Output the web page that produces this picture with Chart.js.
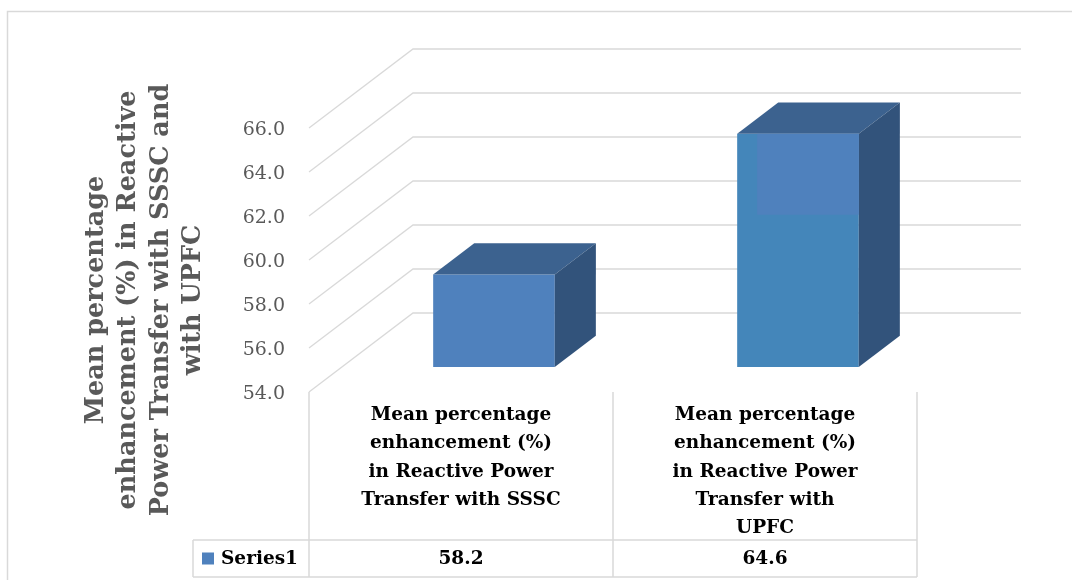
<!DOCTYPE html>
<html>
<head>
<meta charset="utf-8">
<script src="https://cdn.jsdelivr.net/npm/chart.js@4"></script>
<style>
  html, body { margin: 0; padding: 0; background: #ffffff; }
  #wrap { width: 1072px; height: 580px; }
</style>
</head>
<body>
<div id="wrap"><canvas id="chart" width="1072" height="580"></canvas></div>
<script>
// ---- data ----
const categories = [
  ["Mean percentage", "enhancement (%)", "in Reactive Power", "Transfer with SSSC"],
  ["Mean percentage", "enhancement (%)", "in Reactive Power", "Transfer with", "UPFC"]
];
const seriesName = "Series1";
const seriesValues = [58.2, 64.6];
const yTickValues = [54, 56, 58, 60, 62, 64, 66];
const axisTitleLines = [
  "Mean percentage",
  "enhancement (%) in Reactive",
  "Power Transfer with SSSC and",
  "with UPFC"
];

// ---- look ----
const DEPTH_DX = 104;      // full depth of the 3-D floor, x
const DEPTH_DY = -79;      // full depth of the 3-D floor, y
const BAR_FRONT = 0.317;   // where the bar front sits within the depth
const BAR_DEPTH = 0.395;   // how deep each bar is
const GRID = '#D9D9D9';
const AXIS_TEXT = '#595959';
const FRONT_COLORS = ['#4F81BD', '#4486BA'];
const TOP_COLOR = '#3C628F';
const SIDE_COLOR = '#32537B';
const SERIF = '"DejaVu Serif", "Liberation Serif", serif';

const box3d = {
  id: 'box3d',
  beforeDraw(chart) {
    const ctx = chart.ctx;
    ctx.save();
    ctx.fillStyle = '#ffffff';
    ctx.fillRect(0, 0, chart.width, chart.height);
    ctx.strokeStyle = GRID;
    ctx.lineWidth = 1.5;
    ctx.strokeRect(7.5, 11.5, chart.width + 40, chart.height + 40);
    ctx.restore();
  },
  beforeDatasetsDraw(chart) {
    const ctx = chart.ctx;
    const area = chart.chartArea;
    const y = chart.scales.y;
    const x = chart.scales.x;
    ctx.save();

    // side wall and back wall gridlines
    ctx.strokeStyle = GRID;
    ctx.lineWidth = 1.3;
    yTickValues.forEach(v => {
      const py = y.getPixelForValue(v);
      ctx.beginPath();
      ctx.moveTo(area.left, py);
      ctx.lineTo(area.left + DEPTH_DX, py + DEPTH_DY);
      ctx.lineTo(area.right + DEPTH_DX, py + DEPTH_DY);
      ctx.stroke();
    });

    // value axis labels
    ctx.fillStyle = AXIS_TEXT;
    ctx.font = '19px ' + SERIF;
    ctx.textAlign = 'right';
    ctx.textBaseline = 'middle';
    yTickValues.forEach(v => {
      const py = y.getPixelForValue(v);
      ctx.fillText(v.toFixed(1), area.left - 24, py + 2);
    });

    // value axis title
    ctx.font = 'bold 25.5px ' + SERIF;
    ctx.textAlign = 'center';
    axisTitleLines.forEach((line, i) => {
      ctx.save();
      ctx.translate(96 + 32.5 * i, 300);
      ctx.rotate(-Math.PI / 2);
      ctx.fillText(line, 0, 0);
      ctx.restore();
    });

    // data table
    const tTop = area.bottom;
    const hdrBottom = 540;
    const tBottom = 577;
    const rowLeft = 193;
    const mid = (x.getPixelForValue(0) + x.getPixelForValue(1)) / 2;
    ctx.strokeStyle = GRID;
    ctx.lineWidth = 1.5;
    ctx.beginPath();
    [area.left, mid, area.right].forEach(px => {
      ctx.moveTo(px, tTop);
      ctx.lineTo(px, tBottom);
    });
    ctx.moveTo(rowLeft, hdrBottom);
    ctx.lineTo(rowLeft, tBottom);
    ctx.moveTo(rowLeft, hdrBottom);
    ctx.lineTo(area.right, hdrBottom);
    ctx.moveTo(rowLeft, tBottom);
    ctx.lineTo(area.right, tBottom);
    ctx.stroke();

    ctx.fillStyle = '#000000';
    ctx.font = 'bold 18.5px ' + SERIF;
    ctx.textAlign = 'center';
    ctx.textBaseline = 'middle';
    categories.forEach((lines, i) => {
      const cx = x.getPixelForValue(i);
      lines.forEach((line, j) => ctx.fillText(line, cx, 415 + 28.4 * j));
    });
    const rowMid = (hdrBottom + tBottom) / 2 + 1;
    seriesValues.forEach((v, i) => {
      ctx.fillText(v.toFixed(1), x.getPixelForValue(i), rowMid);
    });
    ctx.fillStyle = FRONT_COLORS[0];
    ctx.fillRect(202, rowMid - 7, 12, 12);
    ctx.fillStyle = '#000000';
    ctx.textAlign = 'left';
    ctx.fillText(seriesName, 221, rowMid);

    ctx.restore();
  },
  beforeDatasetDraw(chart) {
    chart.ctx.save();
    chart.ctx.translate(BAR_FRONT * DEPTH_DX, BAR_FRONT * DEPTH_DY);
  },
  afterDatasetDraw(chart, args) {
    const ctx = chart.ctx;
    const bx = BAR_DEPTH * DEPTH_DX;
    const by = BAR_DEPTH * DEPTH_DY;
    args.meta.data.forEach((el, i) => {
      const left = el.x - el.width / 2;
      const right = el.x + el.width / 2;
      const top = el.y;
      const bottom = el.base;
      // top face
      ctx.fillStyle = TOP_COLOR;
      ctx.beginPath();
      ctx.moveTo(left, top);
      ctx.lineTo(left + bx, top + by);
      ctx.lineTo(right + bx, top + by);
      ctx.lineTo(right, top);
      ctx.closePath();
      ctx.fill();
      // side face
      ctx.fillStyle = SIDE_COLOR;
      ctx.beginPath();
      ctx.moveTo(right, top);
      ctx.lineTo(right + bx, top + by);
      ctx.lineTo(right + bx, bottom + by);
      ctx.lineTo(right, bottom);
      ctx.closePath();
      ctx.fill();
      // lighter upper panel on the second bar's front face
      if (i === 1) {
        ctx.fillStyle = FRONT_COLORS[0];
        ctx.fillRect(left + 20, top, el.width - 20, 81);
      }
    });
    ctx.restore();
  }
};

new Chart(document.getElementById('chart'), {
  type: 'bar',
  data: {
    labels: categories,
    datasets: [{
      label: seriesName,
      data: seriesValues,
      base: yTickValues[0],
      backgroundColor: FRONT_COLORS,
      borderWidth: 0,
      categoryPercentage: 1,
      barPercentage: 0.4,
      clip: false
    }]
  },
  options: {
    responsive: false,
    animation: false,
    layout: { padding: { left: 309, right: 155, top: 128, bottom: 188 } },
    scales: {
      x: { display: false, offset: true, grid: { display: false } },
      y: { display: false, min: yTickValues[0], max: yTickValues[yTickValues.length - 1] }
    },
    plugins: {
      legend: { display: false },
      tooltip: { enabled: false }
    }
  },
  plugins: [box3d]
});
</script>
</body>
</html>
